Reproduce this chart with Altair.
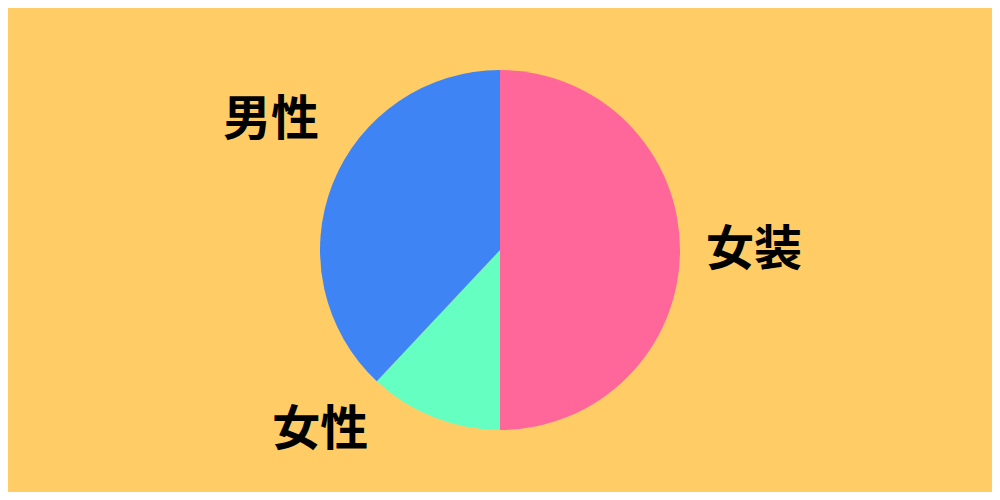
import altair as alt
import pandas as pd

labels = ["女装", "女性", "男性"]
values = [50, 12, 38]
colors = ["#FF6699", "#66FFC2", "#3F84F5"]

total = sum(values)
df = pd.DataFrame({"label": labels, "value": values, "order": list(range(len(labels)))})

theta_scale = alt.Scale(domain=[0, total], range=[0, 6.283185307179586])

base = alt.Chart(df).transform_window(
    cum="sum(value)", sort=[alt.SortField("order")]
).transform_calculate(mid="datum.cum - datum.value / 2")

arc = base.mark_arc(radius=180).encode(
    theta=alt.Theta("value:Q", stack=True, scale=theta_scale),
    color=alt.Color("label:N", scale=alt.Scale(domain=labels, range=colors), legend=None),
    order=alt.Order("order:Q"),
)

offsets = {"女装": (-1, 1), "女性": (-86, -56), "男性": (8, -35)}

layers = [arc]
for lab in labels:
    dx, dy = offsets[lab]
    layers.append(
        base.transform_filter(alt.datum.label == lab)
        .mark_text(
            radius=255, dx=dx, dy=dy,
            font="Noto Sans CJK JP", fontSize=48, fontWeight="bold",
            color="#000000", align="center", baseline="middle",
        )
        .encode(theta=alt.Theta("mid:Q", scale=theta_scale), text="label:N")
    )

chart = alt.layer(*layers).properties(
    width=984, height=484, padding=0, background="#FFCC66",
    autosize=alt.AutoSizeParams(type="none"),
).configure_view(stroke=None)

chart.save("out.html", embed_options={"renderer": "svg", "actions": False})
